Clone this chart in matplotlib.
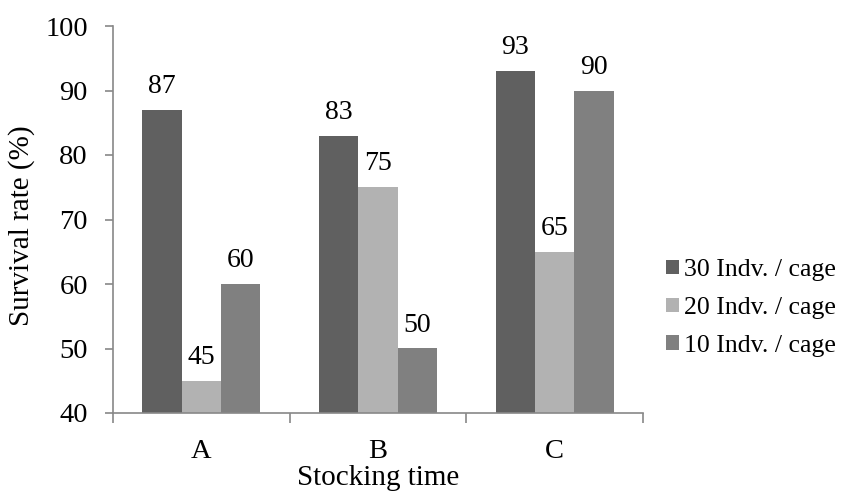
import numpy as np
import matplotlib.pyplot as plt

plt.rcParams['font.family'] = ['Liberation Serif', 'DejaVu Serif']

groups = ['A', 'B', 'C']
series = ['30 Indv. / cage', '20 Indv. / cage', '10 Indv. / cage']
survival = [
    [87, 83, 93],
    [45, 75, 65],
    [60, 50, 90],
]
colors = ['#606060', '#b2b2b2', '#808080']

fig = plt.figure(figsize=(8.45, 4.91), dpi=100)
ax = fig.add_axes([113 / 845, 1 - 413 / 491, 530 / 845, 387 / 491])

x = np.arange(len(groups)) + 0.5
w = 0.2226
for i, (name, vals) in enumerate(zip(series, survival)):
    pos = x + (i - 1) * w
    ax.bar(pos, np.array(vals) - 40, width=w, bottom=40,
           color=colors[i], label=name, zorder=2)
    for p, v in zip(pos, vals):
        ax.text(p, v + 2.6, str(v), ha='center', va='baseline', fontsize=20)

ax.set_xlim(0, 3)
ax.set_ylim(40, 100)
ax.set_yticks(np.arange(40, 101, 10))
ax.set_xticks([0, 1, 2, 3])
ax.set_xticklabels([])
ax.set_xticks(x, minor=True)
ax.set_xticklabels(groups, minor=True)
ax.tick_params(axis='x', which='minor', length=0, labelsize=20.5, pad=19)
ax.tick_params(axis='x', which='major', length=7, color='#888888', width=1.2)
ax.tick_params(axis='y', length=6, color='#888888', width=1.2, labelsize=20.5, pad=12)

for s in ['top', 'right']:
    ax.spines[s].set_visible(False)
for s in ['left', 'bottom']:
    ax.spines[s].set_color('#888888')
    ax.spines[s].set_linewidth(1.2)

# axis titles placed in figure coordinates
fig.text(378 / 845, 1 - 485 / 491, 'Stocking time', ha='center', va='baseline', fontsize=21)
fig.text(22 / 845, 1 - 226 / 491, 'Survival rate (%)', ha='center', va='center',
         rotation=90, fontsize=21)

ax.legend(loc='center left', bbox_to_anchor=(666 / 845, 1 - 308 / 491),
          bbox_transform=fig.transFigure, frameon=False, fontsize=18.5,
          handlelength=0.5, handleheight=0.5, handletextpad=0.2,
          labelspacing=0.62, borderaxespad=0, borderpad=0)

fig.savefig('out.png', dpi=100)
